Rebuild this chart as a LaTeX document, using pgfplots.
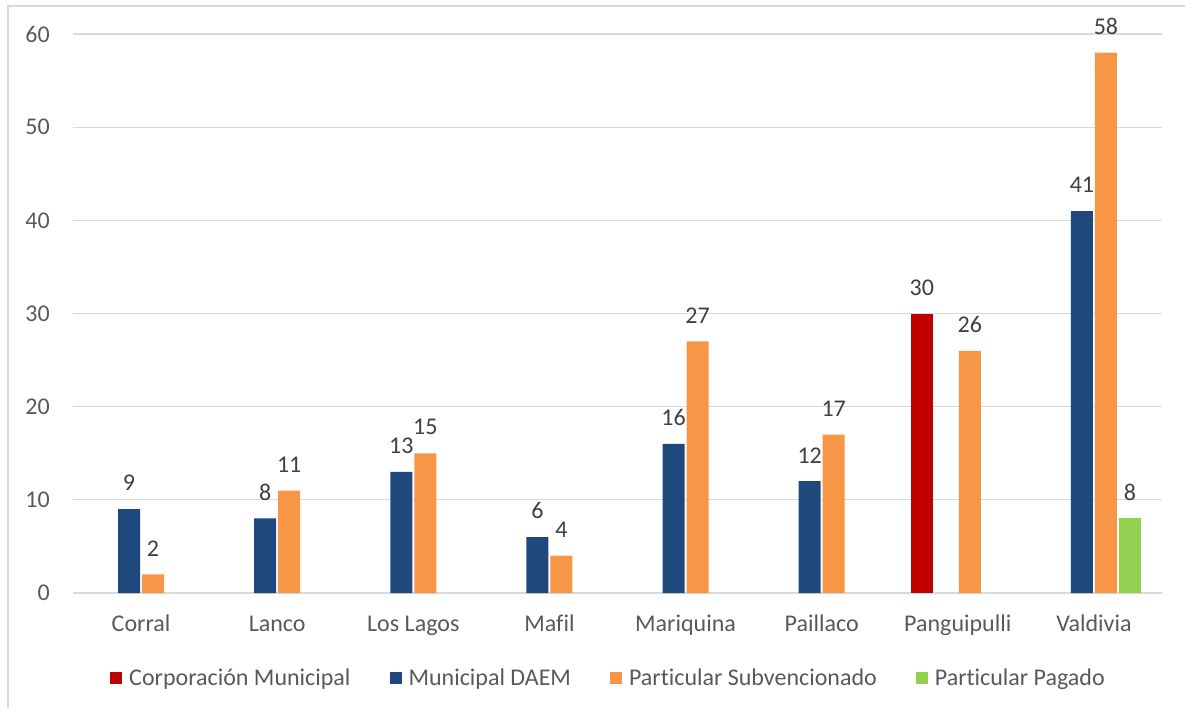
\documentclass[border=0pt]{standalone}
\usepackage{fontspec}
\setmainfont{Carlito}[Ligatures=NoCommon]
\usepackage{pgfplots}
\pgfplotsset{compat=1.18}
\definecolor{corp}{HTML}{C00000}
\definecolor{daem}{HTML}{1F497D}
\definecolor{subv}{HTML}{F79646}
\definecolor{pag}{HTML}{92D050}
\definecolor{gridc}{HTML}{D9D9D9}
\definecolor{txt}{HTML}{595959}
\definecolor{lbl}{HTML}{404040}
\begin{document}
\begin{tikzpicture}
\path[use as bounding box] (-73pt,-114pt) rectangle (1112pt,593pt);
\draw[gridc, line width=1.2pt] (-65pt,-120pt) -- (-65pt,587pt) -- (1120pt,587pt);
\begin{axis}[
  at={(0,0)}, anchor=south west,
  scale only axis, width=1089pt, height=559pt,
  xmin=-0.5, xmax=7.5, ymin=0, ymax=60,
  ybar=2pt, bar width=22pt,
  xtick={0,...,7},
  xticklabels={Corral,Lanco,Los Lagos,Mafil,Mariquina,Paillaco,Panguipulli,Valdivia},
  ytick={0,10,...,60},
  ymajorgrids, major grid style={gridc, line width=1.2pt},
  axis line style={draw=none},
  tick style={draw=none}, major tick length=0pt,
  /pgf/number format/assume math mode=true,
  every tick label/.append style={font=\fontsize{24}{28}\selectfont, text=txt, inner sep=0pt},
  yticklabel style={anchor=east, xshift=-23pt},
  xticklabel style={anchor=base, yshift=-38pt},
  nodes near coords,
  nodes near coords style={font=\fontsize{24}{28}\selectfont, text=lbl, inner sep=0pt, anchor=south, yshift=18pt},
  legend columns=4,
  legend style={draw=none, fill=none, at={(0.4908,-0.152)}, anchor=center,
    font=\fontsize{24}{28}\selectfont, text=txt,
    nodes={inner sep=0pt},
    /tikz/every odd column/.append style={column sep=7pt},
    /tikz/every even column/.append style={column sep=39pt}},
]
\addplot[fill=corp, draw=none, legend image code/.code={\fill[corp] (0pt,-6pt) rectangle (12pt,6pt);}]
  coordinates {(6,30)};
\addlegendentry{Corporación Municipal}
\addplot[fill=daem, draw=none, legend image code/.code={\fill[daem] (0pt,-6pt) rectangle (12pt,6pt);}]
  coordinates {(0,9) (1,8) (2,13) (3,6) (4,16) (5,12) (7,41)};
\addlegendentry{Municipal DAEM}
\addplot[fill=subv, draw=none, legend image code/.code={\fill[subv] (0pt,-6pt) rectangle (12pt,6pt);}]
  coordinates {(0,2) (1,11) (2,15) (3,4) (4,27) (5,17) (6,26) (7,58)};
\addlegendentry{Particular Subvencionado}
\addplot[fill=pag, draw=none, legend image code/.code={\fill[pag] (0pt,-6pt) rectangle (12pt,6pt);}]
  coordinates {(7,8)};
\addlegendentry{Particular Pagado}
\end{axis}
\end{tikzpicture}
\end{document}
